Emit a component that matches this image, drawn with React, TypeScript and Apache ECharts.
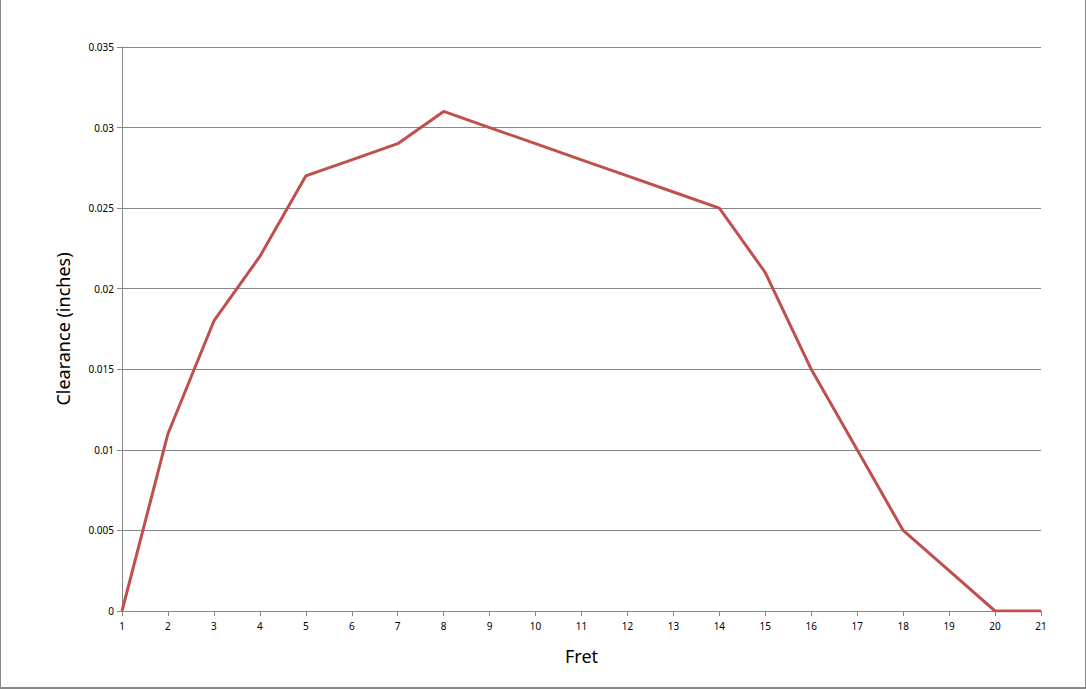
import React, { useRef, useEffect } from 'react'
import * as echarts from 'echarts'

// fret numbers along the x axis
const FRETS = ['1', '2', '3', '4', '5', '6', '7', '8', '9', '10', '11', '12', '13', '14', '15', '16', '17', '18', '19', '20', '21']
// string clearance above each fret (inches)
const CLEARANCE = [0, 0.011, 0.018, 0.022, 0.027, 0.028, 0.029, 0.031, 0.03, 0.029, 0.028, 0.027, 0.026, 0.025, 0.021, 0.015, 0.01, 0.005, 0.0025, 0, 0]

const GRID_GREY = '#868686'
const FONT = '"Noto Sans", "DejaVu Sans", sans-serif'

export default function App() {
  const chartRef = useRef<HTMLDivElement>(null)

  useEffect(() => {
    if (!chartRef.current) return
    const chart = echarts.init(chartRef.current, undefined, { renderer: 'svg' })
    chart.setOption({
      animation: false,
      backgroundColor: '#ffffff',
      grid: { left: 122, right: 45, top: 47, bottom: 78 },
      xAxis: {
        type: 'category',
        data: FRETS,
        boundaryGap: false,
        name: 'Fret',
        nameLocation: 'middle',
        nameGap: 36,
        nameTextStyle: { fontFamily: FONT, fontSize: 18, color: '#000' },
        axisLine: { lineStyle: { color: GRID_GREY, width: 1 } },
        axisTick: { show: true, length: 5, lineStyle: { color: GRID_GREY } },
        axisLabel: { fontFamily: FONT, fontSize: 10, color: '#000', margin: 10 },
        splitLine: { show: false },
      },
      yAxis: {
        type: 'value',
        min: 0,
        max: 0.035,
        interval: 0.005,
        name: 'Clearance (inches)',
        nameLocation: 'middle',
        nameGap: 50,
        nameRotate: 90,
        nameTextStyle: { fontFamily: FONT, fontSize: 18, color: '#000' },
        axisLine: { show: true, lineStyle: { color: GRID_GREY, width: 1 } },
        axisTick: { show: true, length: 5, lineStyle: { color: GRID_GREY } },
        axisLabel: {
          fontFamily: FONT,
          fontSize: 10,
          color: '#000',
          margin: 8,
          formatter: (v: number) => String(+v.toFixed(3)),
        },
        splitLine: { show: true, lineStyle: { color: GRID_GREY, width: 1 } },
      },
      series: [
        {
          type: 'line',
          data: CLEARANCE,
          showSymbol: false,
          symbol: 'none',
          lineStyle: { color: '#C0504D', width: 3 },
        },
      ],
    })
    return () => {
      chart.dispose()
    }
  }, [])

  return (
    <div style={{ position: 'fixed', left: 0, top: 0, width: 1086, height: 689, background: '#fff' }}>
      <div ref={chartRef} style={{ position: 'absolute', left: 0, top: 0, width: 1086, height: 689 }} />
      <div
        style={{
          position: 'absolute',
          left: 0,
          top: 0,
          width: 1086,
          height: 689,
          boxSizing: 'border-box',
          borderLeft: '1px solid #888',
          borderRight: '1px solid #888',
          borderBottom: '2px solid #888',
          pointerEvents: 'none',
        }}
      />
    </div>
  )
}
